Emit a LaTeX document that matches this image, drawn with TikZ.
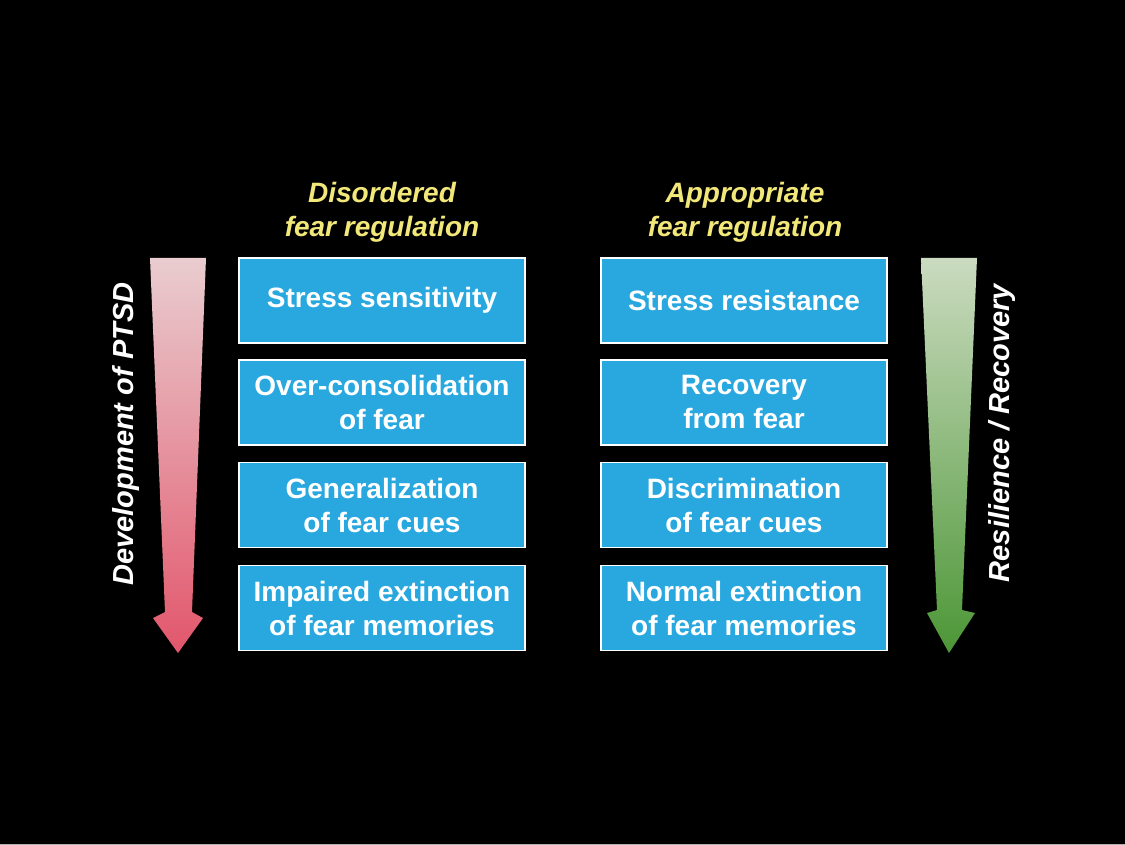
\documentclass[tikz,border=0pt]{standalone}
\usepackage{fontspec}
\setmainfont{Liberation Sans}
\definecolor{boxblue}{HTML}{29A8E0}
\definecolor{titleyellow}{HTML}{F2E87A}
\definecolor{pinktop}{HTML}{E9CDD0}
\definecolor{redbot}{HTML}{E2566B}
\definecolor{greentop}{HTML}{CBDBC0}
\definecolor{greenbot}{HTML}{4C9636}
\tikzset{
  fbox/.style={draw=white, line width=1.2pt, fill=boxblue, minimum width=286pt, minimum height=85pt,
    text=white, font=\fontsize{28}{34}\selectfont\bfseries, align=center, inner sep=0pt},
  ttl/.style={text=titleyellow, font=\fontsize{28}{34}\selectfont\bfseries\itshape, align=center},
  side/.style={text=white, font=\fontsize{29}{32}\selectfont\bfseries\itshape, rotate=90}
}
\begin{document}
\begin{tikzpicture}[x=1pt,y=-1pt]
\fill[black] (0,0) rectangle (1125,845);
\useasboundingbox (0,0) rectangle (1125,845);
\draw[gray!60, line width=1pt] (0,844) -- (1125,844);
% titles
\node[ttl] (t1) at (382,212) {Disordered\\fear regulation};
\node[ttl] (t2) at (745,212) {Appropriate\\fear regulation};
% left boxes
\node[fbox] (l1) at (382,300.5) {Stress sensitivity};
\node[fbox] (l2) at (382,402.5) {Over-consolidation\\of fear};
\node[fbox] (l3) at (382,505) {Generalization\\of fear cues};
\node[fbox] (l4) at (382,608) {Impaired extinction\\of fear memories};
% right boxes
\node[fbox] (r1) at (744,300.5) {Stress resistance};
\node[fbox] (r2) at (744,402.5) {Recovery\\from fear};
\node[fbox] (r3) at (744,505) {Discrimination\\of fear cues};
\node[fbox] (r4) at (744,608) {Normal extinction\\of fear memories};
% arrows
\shade[top color=pinktop, bottom color=redbot]
  (150,258) -- (206,258) -- (192,612) -- (203,618) -- (178,653) -- (153,618) -- (165,612) -- cycle;
\shade[top color=greentop, bottom color=greenbot]
  (921,258) -- (977,258) -- (962,610) -- (975,613) -- (949,653) -- (927,613) -- (937,610) -- cycle;
% side labels
\node[side] (s1) at (126,434) {Development of PTSD};
\node[side] (s2) at (1002,433) {Resilience / Recovery};
\end{tikzpicture}
\end{document}
